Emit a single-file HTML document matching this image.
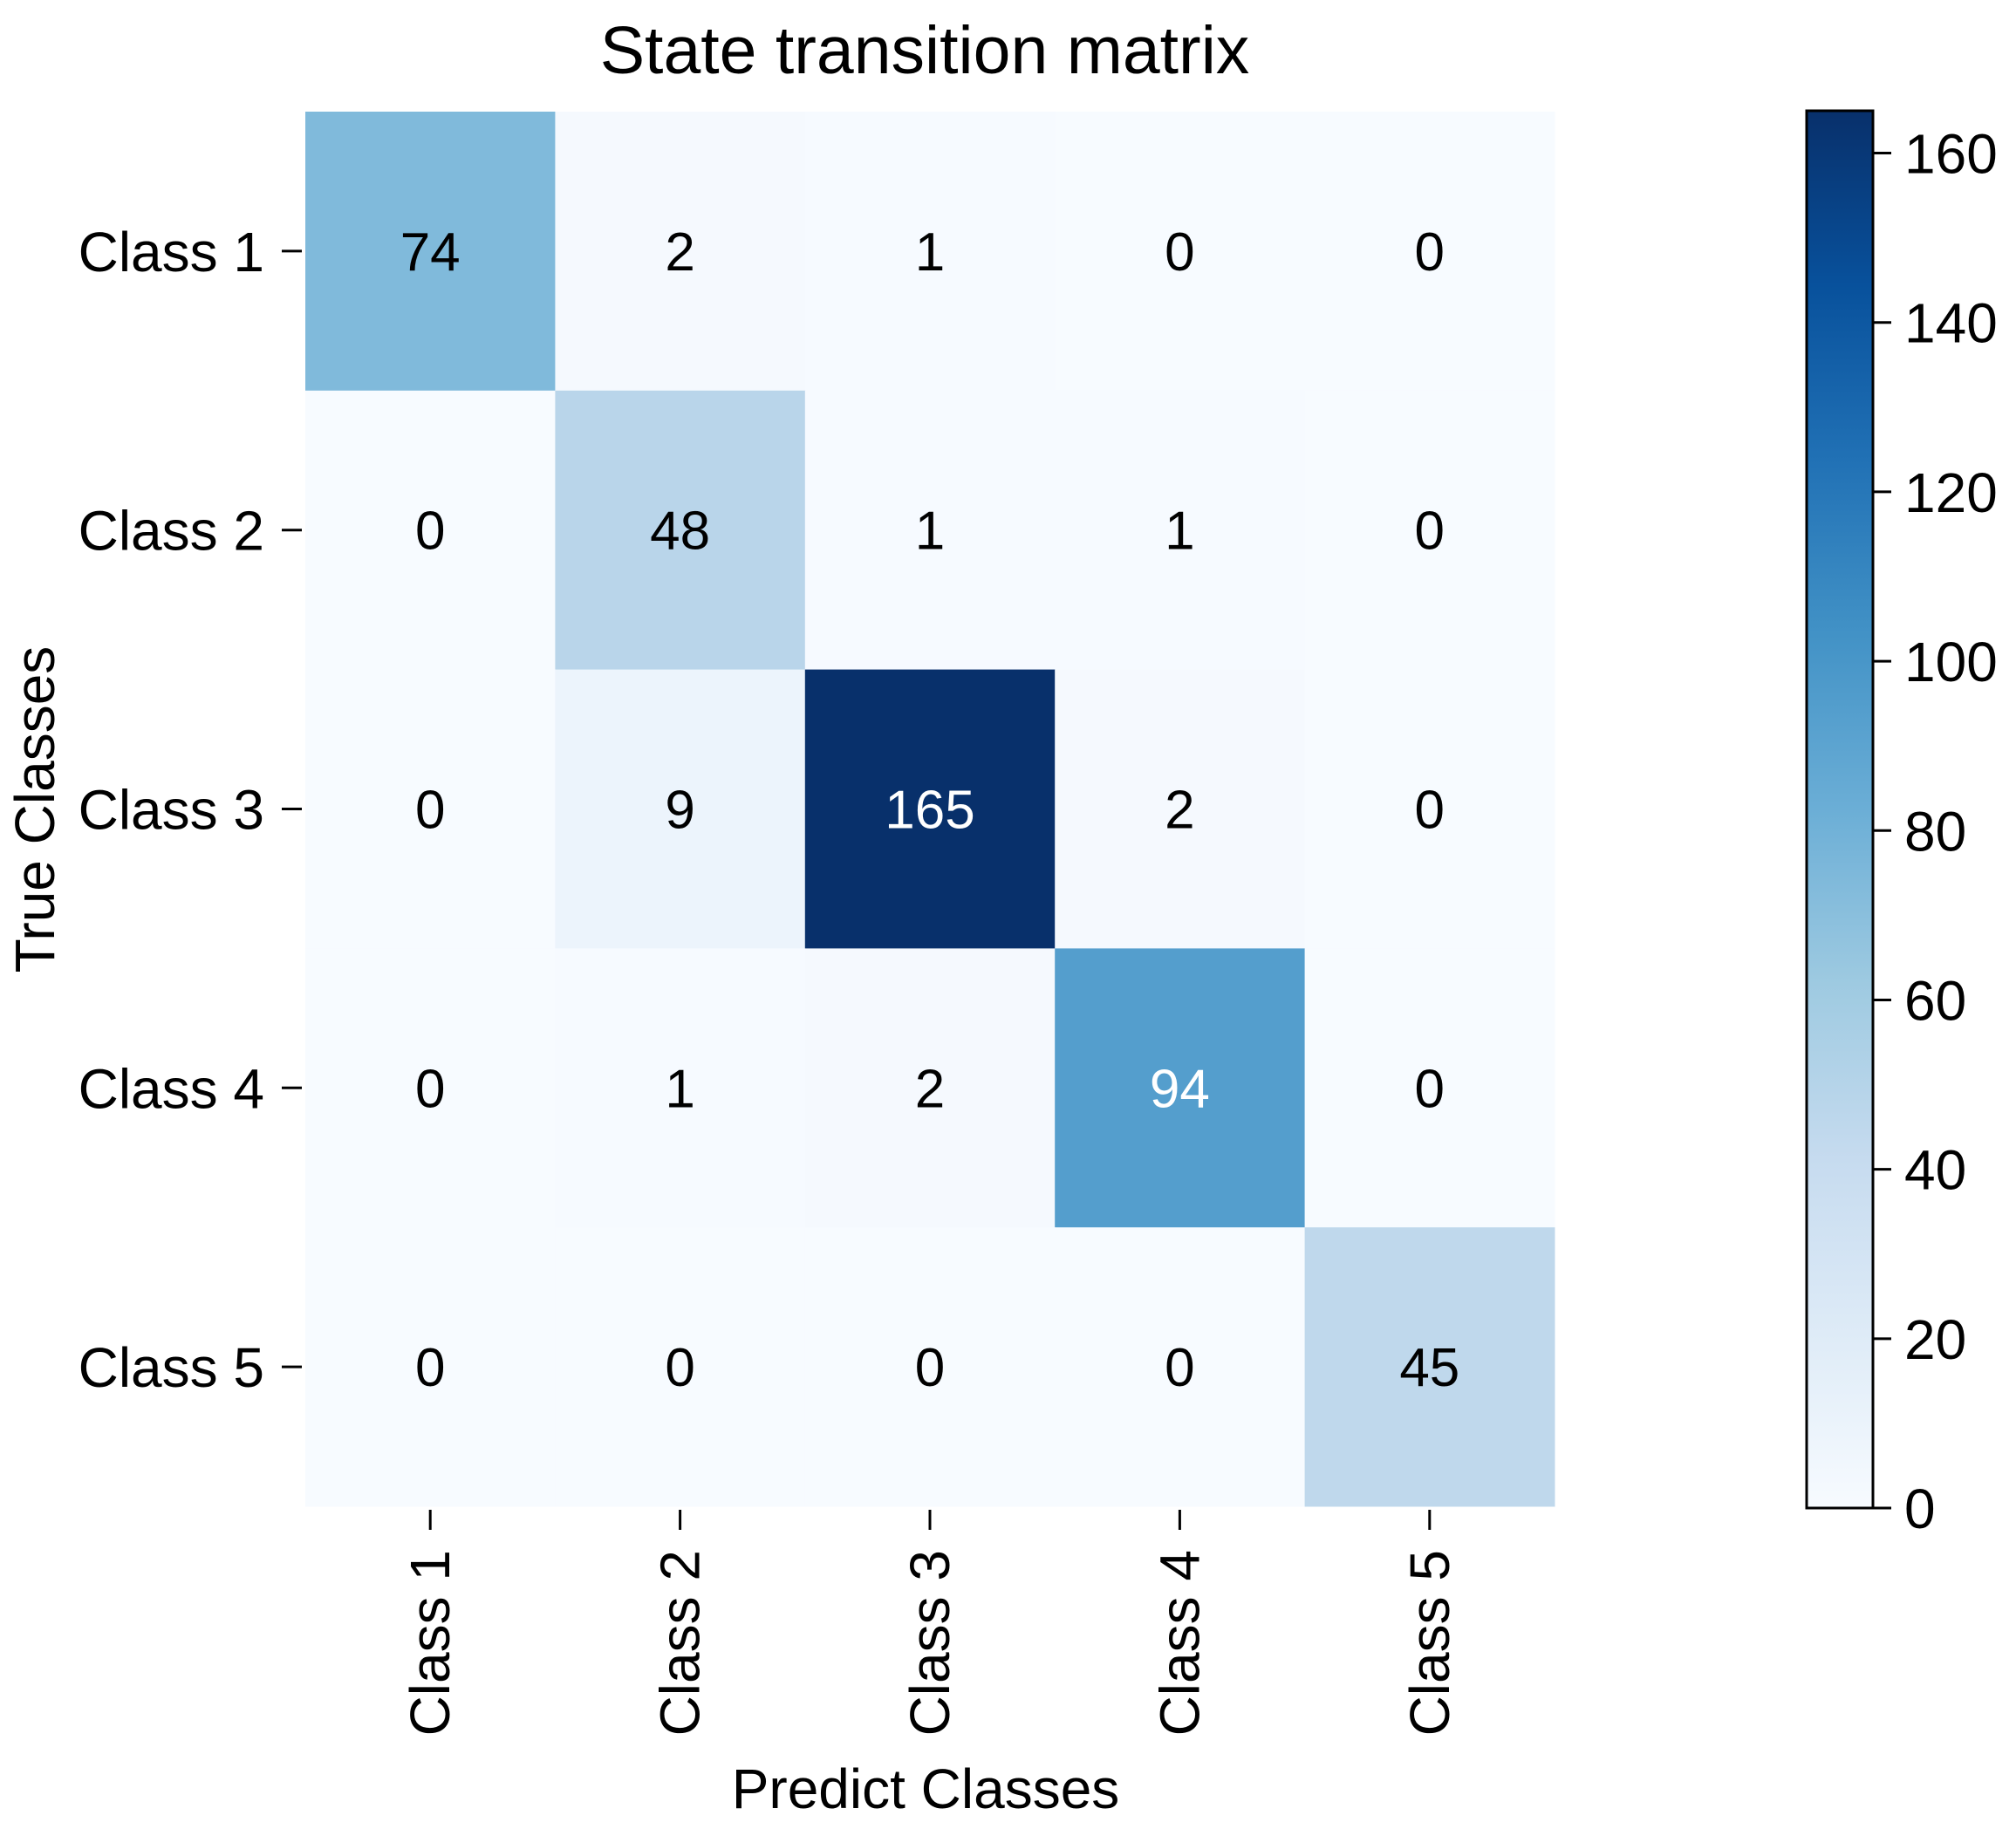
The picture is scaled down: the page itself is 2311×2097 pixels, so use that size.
<!DOCTYPE html>
<html><head><meta charset="utf-8"><style>
html,body{margin:0;padding:0;background:#fff;}
svg{display:block;font-family:"Liberation Sans","DejaVu Sans",sans-serif;}
</style></head><body>
<svg id="chart" width="2311" height="2097" viewBox="0 0 2311 2097" xmlns="http://www.w3.org/2000/svg">
<defs>
<linearGradient id="cbgrad" x1="0" y1="1" x2="0" y2="0">
<stop offset="0" stop-color="#f7fbff"/><stop offset="0.125" stop-color="#deebf7"/><stop offset="0.25" stop-color="#c6dbef"/><stop offset="0.375" stop-color="#9ecae1"/><stop offset="0.5" stop-color="#6baed6"/><stop offset="0.625" stop-color="#4292c6"/><stop offset="0.75" stop-color="#2171b5"/><stop offset="0.875" stop-color="#08519c"/><stop offset="1" stop-color="#08306b"/>
</linearGradient>
</defs>
<text x="1060" y="84" font-size="77" text-anchor="middle" fill="#000">State transition matrix</text>
<g id="cells"></g>
<g id="yticks"></g>
<g id="xticks"></g>
<text x="1061" y="2073" font-size="64" text-anchor="middle" fill="#000">Predict Classes</text>
<text transform="translate(62,928) rotate(-90)" font-size="64" text-anchor="middle" fill="#000">True Classes</text>
<rect x="2071" y="127" width="76" height="1602" fill="url(#cbgrad)" stroke="#000" stroke-width="3"/>
<g id="cbticks"></g>
</svg>
<script>
const rowLabels = ["Class 1","Class 2","Class 3","Class 4","Class 5"];
const colLabels = ["Class 1","Class 2","Class 3","Class 4","Class 5"];
const row1 = [74,2,1,0,0];
const row2 = [0,48,1,1,0];
const row3 = [0,9,165,2,0];
const row4 = [0,1,2,94,0];
const row5 = [0,0,0,0,45];
const cbTickValues = [0,20,40,60,80,100,120,140,160];

const matrix = [row1,row2,row3,row4,row5];
const NS = "http://www.w3.org/2000/svg";
const L = 350, R = 1782, T = 128, B = 1727;
const vmax = Math.max(...matrix.flat());
const cw = (R - L) / colLabels.length, ch = (B - T) / rowLabels.length;
const xPos = j => L + cw * j;
const yPos = i => T + ch * i;
const cbBottom = 1729, cbTop = 127;
const cbY = v => cbBottom - (v / vmax) * (cbBottom - cbTop);

const stops = ["#f7fbff","#deebf7","#c6dbef","#9ecae1","#6baed6","#4292c6","#2171b5","#08519c","#08306b"];
function hex(h){return [1,3,5].map(k=>parseInt(h.substr(k,2),16));}
function color(v){
  let t = Math.max(0, Math.min(1, v / vmax)) * (stops.length - 1);
  let k = Math.min(Math.floor(t), stops.length - 2), f = t - k;
  let a = hex(stops[k]), b = hex(stops[k+1]);
  return "rgb(" + a.map((c,i)=>Math.round(c + (b[i]-c)*f)).join(",") + ")";
}
function mk(tag, attrs, parent){
  const e = document.createElementNS(NS, tag);
  for (const k in attrs) e.setAttribute(k, attrs[k]);
  parent.appendChild(e); return e;
}
const cells = document.getElementById("cells");
matrix.forEach((row, i) => row.forEach((v, j) => {
  const r = mk("rect", {x: xPos(j), y: yPos(i), width: cw + 0.5, height: ch + 0.5, fill: color(v)}, cells);
  
  
  const t = mk("text", {x: xPos(j) + cw/2, y: yPos(i) + ch/2 + 22, "font-size": 62, "text-anchor": "middle", fill: (v / vmax > 0.5) ? "#fff" : "#000"}, cells);
  
  
  t.textContent = v;
}));
const yt = document.getElementById("yticks");
rowLabels.forEach((lab, i) => {
  const cy = yPos(i) + ch/2;
  const ln = mk("line", {x1: 323, x2: 346, y1: cy, y2: cy, stroke: "#000", "stroke-width": 3}, yt);
  
  
  const t = mk("text", {x: 303, y: cy + 23, "font-size": 64, "text-anchor": "end", fill: "#000"}, yt);
  
  
  t.textContent = lab;
});
const xt = document.getElementById("xticks");
colLabels.forEach((lab, j) => {
  const cx = xPos(j) + cw/2;
  const ln = mk("line", {x1: cx, x2: cx, y1: 1731, y2: 1754, stroke: "#000", "stroke-width": 3}, xt);
  
  
  const t = mk("text", {transform: "translate(" + (cx + 22) + ",1777) rotate(-90)", "font-size": 64, "text-anchor": "end", fill: "#000"}, xt);
  
  
  t.textContent = lab;
});
const cbt = document.getElementById("cbticks");
cbTickValues.forEach(v => {
  const y = cbY(v);
  const ln = mk("line", {x1: 2147, x2: 2168, y1: y, y2: y, stroke: "#000", "stroke-width": 3}, cbt);
  
  
  const t = mk("text", {x: 2183, y: y + 23, "font-size": 64, fill: "#000"}, cbt);
  
  
  t.textContent = v;
});
</script>
</body></html>
